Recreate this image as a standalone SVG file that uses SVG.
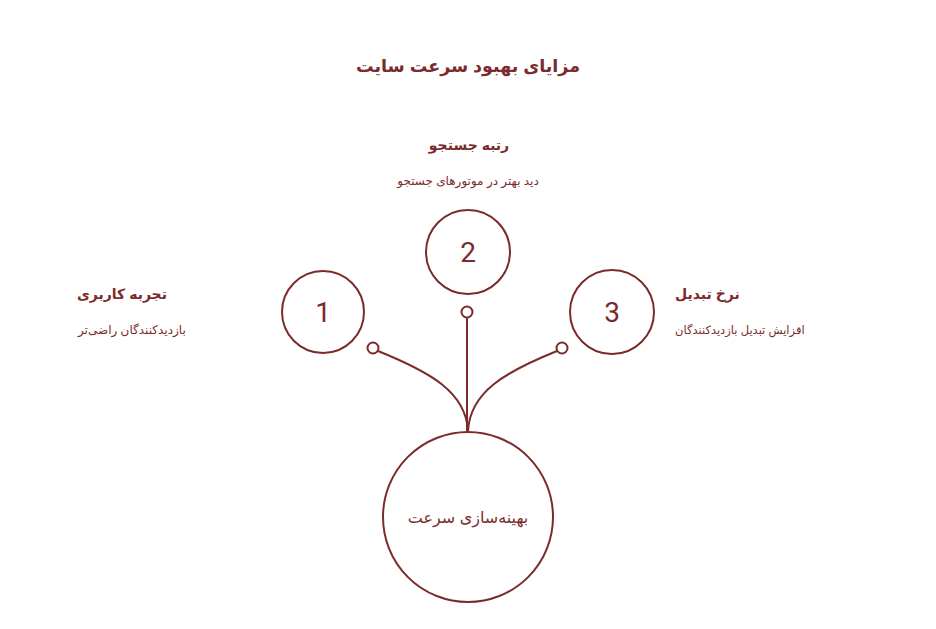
<svg xmlns="http://www.w3.org/2000/svg" width="936" height="629" viewBox="0 0 936 629">
<style>
text{font-family:"Liberation Sans","DejaVu Sans",sans-serif;fill:#7b2b2b}
.t{font-size:17.5px;font-weight:bold}
.h{font-size:14px;font-weight:bold}
.s{font-size:12px}
.n{font-size:28px;font-family:Roboto,"Liberation Sans",sans-serif}
.c{fill:#fff;stroke:#7b2b2b;stroke-width:2}
.l{fill:none;stroke:#7b2b2b;stroke-width:2}
</style>
<rect width="936" height="629" fill="#fff"/>
<text class="t" x="468" y="72" text-anchor="middle">مزایای بهبود سرعت سایت</text>
<g id="connectors">
<path class="l" d="M378,351 C430,372 466,392 468,431"/>
<path class="l" d="M557,351 C505,372 470,392 468,431"/>
<path class="l" d="M467,318 L467,431"/>
<circle class="c" cx="373" cy="348" r="5.5"/>
<circle class="c" cx="467" cy="312" r="5.5"/>
<circle class="c" cx="562" cy="348" r="5.5"/>
</g>
<g id="center">
<circle class="c" cx="468" cy="517" r="85"/>
<text x="468" y="523" font-size="16" text-anchor="middle">بهینه‌سازی سرعت</text>
</g>
<g id="node1">
<circle class="c" cx="323" cy="312" r="41"/>
<text class="n" x="323" y="322" text-anchor="middle">1</text>
<text class="h" x="77" y="299">تجربه کاربری</text>
<text class="s" x="78" y="334" font-size="12.3">بازدیدکنندگان راضی‌تر</text>
</g>
<g id="node2">
<circle class="c" cx="468" cy="252" r="42"/>
<text class="n" x="468" y="262" text-anchor="middle">2</text>
<text class="h" x="469" y="150" text-anchor="middle">رتبه جستجو</text>
<text class="s" x="468" y="185" text-anchor="middle">دید بهتر در موتورهای جستجو</text>
</g>
<g id="node3">
<circle class="c" cx="612" cy="312" r="42"/>
<text class="n" x="612" y="322" text-anchor="middle">3</text>
<text class="h" x="675" y="299">نرخ تبدیل</text>
<text class="s" x="675" y="334" style="font-size:11.5px">افزایش تبدیل بازدیدکنندگان</text>
</g>
</svg>
